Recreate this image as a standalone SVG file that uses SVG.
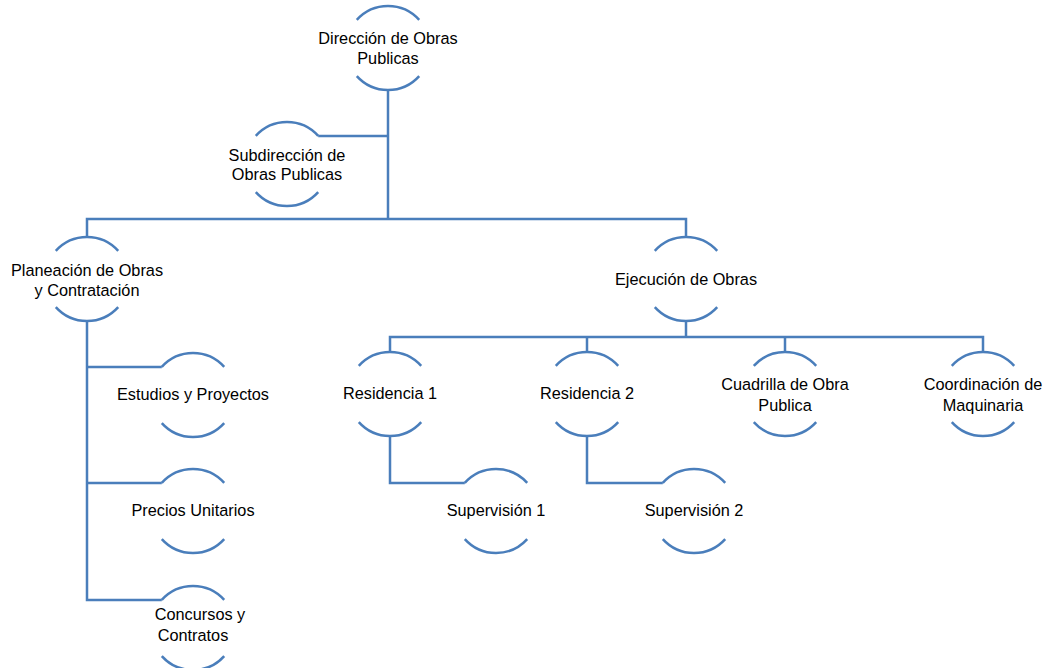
<svg xmlns="http://www.w3.org/2000/svg" xmlns:xlink="http://www.w3.org/1999/xlink" width="1044" height="668" viewBox="0 0 1044 668">
<style>
.ln{fill:none;stroke:#4A7EBB;stroke-width:2.5}
.t{font-family:"Liberation Sans",Arial,sans-serif;font-size:16.3px;fill:#000;text-anchor:middle}
</style>
<defs>
<g id="ring" class="ln">
<path d="M-31.2,-28.1 A42,42 0 0 1 31.2,-28.1"/>
<path d="M31.2,28.1 A42,42 0 0 1 -31.2,28.1"/>
</g>
</defs>
<rect width="1044" height="668" fill="#fff"/>
<g id="connectors" class="ln">
<path d="M388,90 V219"/>
<path d="M318.2,136 H388"/>
<path d="M87,237 V219 H686 V237"/>
<path d="M686,321 V337"/>
<path d="M390,352 V337 H983 V352"/>
<path d="M587,337 V352"/>
<path d="M785,337 V352"/>
<path d="M87,320 V600 H161.8"/>
<path d="M87,367 H161.8"/>
<path d="M87,483 H161.8"/>
<path d="M390,436 V483 H464.8"/>
<path d="M587,436 V483 H662.8"/>
</g>
<g id="n1"><use xlink:href="#ring" x="388" y="48"/><text class="t" x="388" y="44">Dirección de Obras</text><text class="t" x="388" y="64">Publicas</text></g>
<g id="n2"><use xlink:href="#ring" x="287" y="164"/><text class="t" x="287" y="161">Subdirección de</text><text class="t" x="287" y="180">Obras Publicas</text></g>
<g id="n3"><use xlink:href="#ring" x="87" y="279"/><text class="t" x="87" y="276">Planeación de Obras</text><text class="t" x="87" y="296">y Contratación</text></g>
<g id="n4"><use xlink:href="#ring" x="686" y="279"/><text class="t" x="686" y="285">Ejecución de Obras</text></g>
<g id="n5"><use xlink:href="#ring" x="193" y="395"/><text class="t" x="193" y="400">Estudios y Proyectos</text></g>
<g id="n6"><use xlink:href="#ring" x="193" y="511"/><text class="t" x="193" y="516">Precios Unitarios</text></g>
<g id="n7"><use xlink:href="#ring" x="193" y="628"/><text class="t" x="200" y="620">Concursos y</text><text class="t" x="193" y="641">Contratos</text></g>
<g id="n8"><use xlink:href="#ring" x="390" y="394"/><text class="t" x="390" y="399">Residencia 1</text></g>
<g id="n9"><use xlink:href="#ring" x="587" y="394"/><text class="t" x="587" y="399">Residencia 2</text></g>
<g id="n10"><use xlink:href="#ring" x="785" y="394"/><text class="t" x="785" y="390">Cuadrilla de Obra</text><text class="t" x="785" y="411">Publica</text></g>
<g id="n11"><use xlink:href="#ring" x="983" y="394"/><text class="t" x="983" y="390">Coordinación de</text><text class="t" x="983" y="411">Maquinaria</text></g>
<g id="n12"><use xlink:href="#ring" x="496" y="511"/><text class="t" x="496" y="516">Supervisión 1</text></g>
<g id="n13"><use xlink:href="#ring" x="694" y="511"/><text class="t" x="694" y="516">Supervisión 2</text></g>
</svg>
